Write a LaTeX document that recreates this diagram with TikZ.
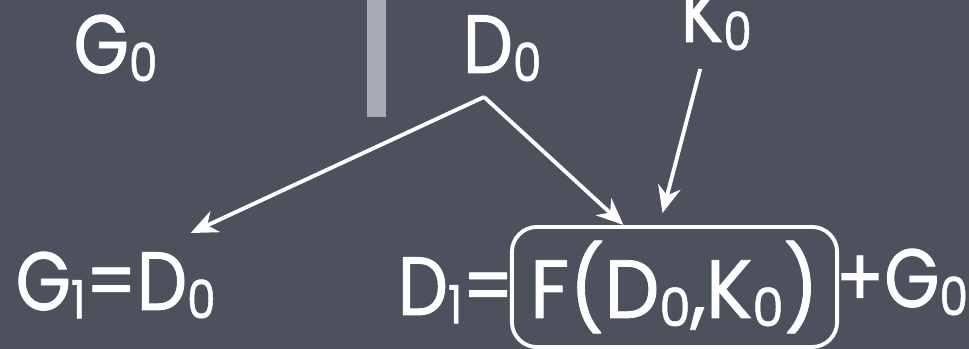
\documentclass[tikz,border=0pt]{standalone}
\usepackage{fontspec}
\setmainfont{Poppins}[FakeStretch=0.86,FakeBold=1]
\newfontfamily\boxfont{Poppins}[FakeStretch=0.94,FakeBold=1]
\usetikzlibrary{calc,arrows.meta}
\definecolor{board}{HTML}{4C515D}
\definecolor{barcol}{HTML}{A9ABB3}
\newcommand{\lowsub}[1]{\raisebox{-0.1em}{\fontsize{15}{15}\selectfont #1}}
\begin{document}
\begin{tikzpicture}[
  x=0.01cm, y=-0.01cm,
  lbl/.style={text=white, inner sep=0pt, anchor=base west, font=\fontsize{23.5}{26}\selectfont},
  fbox/.style={draw=white, line width=1.1pt, rounded corners=0.25cm, minimum width=3.25cm, minimum height=1.2cm, text=white, inner sep=0pt, font=\boxfont\fontsize{23.5}{26}\selectfont},
  arr/.style={draw=white, line width=1.1pt, -{Stealth[length=0.27cm,width=0.23cm]}}
]
\fill[board] (0,0) rectangle (969,349);
\useasboundingbox (0,0) rectangle (969,349);
\fill[barcol] (367,0) rectangle (386,117);
\node[lbl] (g0) at (73,73) {G\lowsub{0}};
\node[lbl] (d0) at (462,73) {D\lowsub{0}};
\node[lbl] (k0) at (680,42) {K\lowsub{0}};
\node[lbl] (g1) at (15,310) {G\lowsub{1}=D\lowsub{0}};
\node[lbl] (d1) at (397,315) {D\lowsub{1}=};
\node[fbox] (box) at (674.5,287) {F(D\lowsub{0},K\lowsub{0})};
\node[lbl] (plus) at (835,307) {+G\lowsub{0}};
\coordinate (apex) at ($(d0.south)+(-18,15)$);
\draw[arr] (apex) -- ($(g1.north)+(75,-18)$);
\draw[arr] (apex) -- ($(box.north)+(-51,0)$);
\draw[arr] ($(k0.south)+(-16,18)$) -- ($(box.north)+(-12,-12)$);
\end{tikzpicture}
\end{document}
